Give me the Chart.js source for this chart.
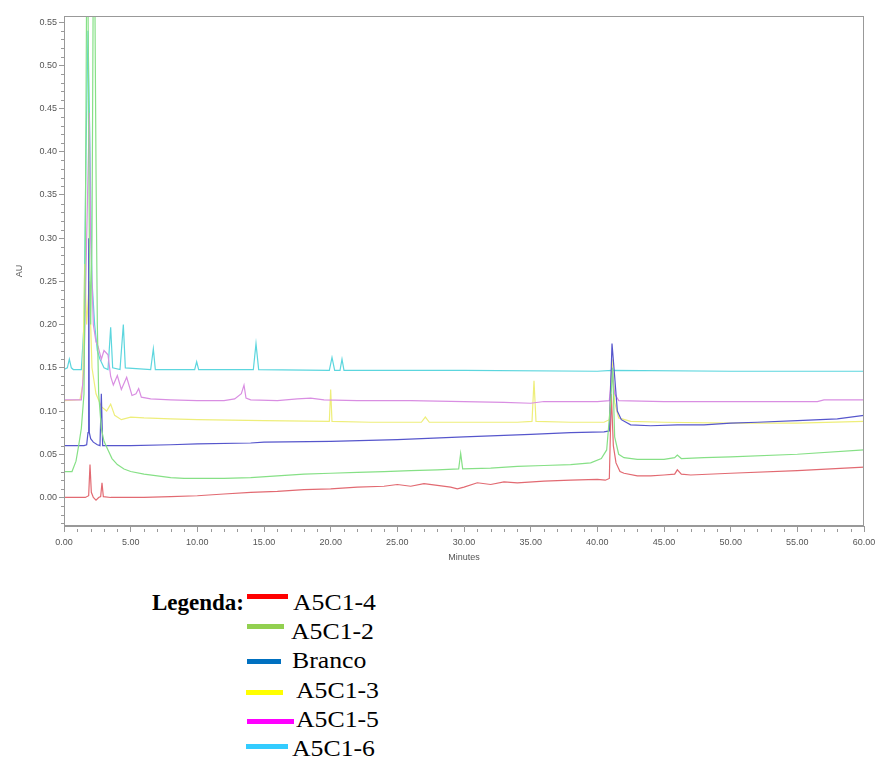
<!DOCTYPE html>
<html>
<head>
<meta charset="utf-8">
<script src="https://cdn.jsdelivr.net/npm/chart.js@4/dist/chart.umd.min.js"></script>
<style>
  html, body { margin: 0; padding: 0; background: #fff; width: 881px; height: 761px; overflow: hidden; }
  #wrap { position: absolute; left: 0; top: 0; width: 881px; height: 570px; }
  .lg { position: absolute; font-family: "Liberation Serif", "Times New Roman", serif; font-size: 23px; color: #000; line-height: 1; transform-origin: left center; transform: scaleX(1.12); white-space: nowrap; }
  .lgt { font-weight: bold; transform: scaleX(1.0); }
  .sw { position: absolute; height: 5px; }
</style>
</head>
<body>
<div id="wrap"><canvas id="c" width="881" height="570"></canvas></div>

<div class="lg lgt" style="left:152px; top:591px;">Legenda:</div>
<div class="sw" style="left:247px; top:594px; width:41px; background:#ff0000;"></div>
<div class="lg" style="left:293px; top:591px;">A5C1-4</div>
<div class="sw" style="left:247px; top:624px; width:37px; background:#92d050;"></div>
<div class="lg" style="left:291px; top:620px;">A5C1-2</div>
<div class="sw" style="left:247px; top:659px; width:34px; background:#0070c0;"></div>
<div class="lg" style="left:292px; top:649px;">Branco</div>
<div class="sw" style="left:246px; top:690px; width:37px; background:#ffff00;"></div>
<div class="lg" style="left:296px; top:679px;">A5C1-3</div>
<div class="sw" style="left:247px; top:719px; width:47px; background:#ff00ff;"></div>
<div class="lg" style="left:296px; top:708px;">A5C1-5</div>
<div class="sw" style="left:246px; top:744px; width:42px; background:#33ccff;"></div>
<div class="lg" style="left:292px; top:737px;">A5C1-6</div>

<script>
// ---- data (time in minutes, absorbance in AU) ----
const seriesNames = ["A5C1-4", "A5C1-2", "Branco", "A5C1-3", "A5C1-5", "A5C1-6"];

const a5c1_4 = [[0,0],[1.6,0],[1.85,0.002],[1.95,0.038],[2.05,0.006],[2.2,0.0],[2.4,-0.003],[2.6,0.0],[2.75,0.001],[2.85,0.017],[2.95,0.001],[3.5,0.0],[6,0.0],[8,0.001],[10,0.002],[12,0.004],[14,0.006],[16,0.007],[18,0.009],[20,0.01],[22,0.012],[24,0.013],[25,0.015],[26,0.013],[27,0.016],[28,0.014],[29,0.012],[29.5,0.01],[30,0.012],[31,0.017],[32,0.015],[33,0.018],[34,0.017],[36,0.019],[38,0.02],[40,0.021],[40.6,0.02],[40.9,0.022],[41.05,0.12],[41.2,0.06],[41.4,0.04],[41.7,0.03],[42,0.028],[43,0.025],[44,0.025],[45,0.026],[45.8,0.027],[46,0.032],[46.3,0.027],[47,0.026],[50,0.028],[55,0.031],[60,0.035]];

const a5c1_2 = [[0,0.03],[0.6,0.03],[0.9,0.042],[1.1,0.06],[1.3,0.08],[1.5,0.12],[1.6,0.3],[1.7,0.6],[1.8,0.58],[1.9,0.3],[2.0,0.2],[2.1,0.3],[2.2,0.62],[2.3,0.62],[2.4,0.38],[2.5,0.2],[2.6,0.12],[2.8,0.08],[3.0,0.065],[3.3,0.055],[3.6,0.045],[4.0,0.038],[4.5,0.033],[5,0.03],[6,0.027],[7,0.025],[8,0.023],[9,0.022],[10,0.022],[12,0.022],[14,0.023],[16,0.025],[18,0.027],[20,0.028],[22,0.029],[24,0.03],[26,0.031],[28,0.032],[29.6,0.033],[29.75,0.051],[29.9,0.033],[32,0.034],[34,0.036],[36,0.037],[38,0.038],[39.5,0.04],[40.3,0.045],[40.7,0.055],[41.0,0.11],[41.15,0.15],[41.3,0.07],[41.6,0.05],[42,0.046],[43,0.044],[45,0.044],[45.8,0.046],[46,0.049],[46.3,0.045],[48,0.046],[50,0.047],[55,0.05],[60,0.055]];

const branco = [[0,0.06],[1.5,0.06],[1.7,0.061],[1.8,0.075],[1.85,0.3],[1.9,0.075],[2.0,0.068],[2.2,0.064],[2.5,0.061],[2.7,0.06],[2.8,0.12],[2.9,0.06],[3.5,0.06],[5,0.06],[8,0.061],[10,0.062],[14,0.063],[15,0.064],[20,0.065],[25,0.067],[30,0.07],[35,0.073],[38,0.075],[40.5,0.076],[40.9,0.077],[41.1,0.178],[41.3,0.14],[41.5,0.1],[41.8,0.09],[42.5,0.084],[44,0.083],[46,0.084],[48,0.084],[50,0.086],[52,0.087],[55,0.089],[58,0.091],[60,0.095]];

const a5c1_3 = [[0,0.112],[1.2,0.113],[1.4,0.13],[1.55,0.27],[1.7,0.2],[1.9,0.25],[2.1,0.15],[2.4,0.12],[2.8,0.105],[3.2,0.1],[3.5,0.108],[3.8,0.095],[4.3,0.09],[5,0.093],[6,0.092],[8,0.091],[10,0.09],[15,0.089],[19.9,0.088],[20.0,0.125],[20.1,0.088],[23,0.087],[26.8,0.087],[27.1,0.093],[27.4,0.087],[30,0.087],[34,0.087],[35.1,0.088],[35.25,0.135],[35.4,0.088],[38,0.087],[40.5,0.087],[40.9,0.09],[41.1,0.16],[41.3,0.11],[41.6,0.092],[42.5,0.088],[45,0.087],[50,0.086],[55,0.086],[60,0.088]];

const a5c1_5 = [[0,0.113],[1.3,0.113],[1.5,0.15],[1.7,0.3],[1.9,0.445],[2.0,0.3],[2.2,0.2],[2.4,0.18],[2.55,0.175],[2.8,0.16],[3.0,0.17],[3.3,0.165],[3.5,0.14],[3.7,0.13],[4.0,0.141],[4.3,0.125],[4.7,0.139],[5.1,0.118],[5.4,0.12],[5.6,0.126],[5.8,0.116],[6.5,0.114],[8,0.113],[10,0.112],[12,0.112],[12.8,0.114],[13.3,0.12],[13.5,0.13],[13.65,0.115],[14,0.113],[16,0.112],[17.5,0.114],[18.5,0.115],[19.5,0.113],[22,0.112],[26,0.112],[30,0.111],[33,0.11],[35,0.109],[36,0.111],[40,0.111],[40.9,0.112],[41.1,0.15],[41.3,0.12],[41.6,0.112],[45,0.111],[50,0.111],[56.5,0.111],[57,0.113],[60,0.113]];

const a5c1_6 = [[0,0.148],[0.25,0.15],[0.4,0.16],[0.55,0.15],[0.7,0.148],[1.3,0.148],[1.5,0.2],[1.65,0.4],[1.8,0.54],[1.95,0.4],[2.1,0.25],[2.3,0.2],[2.5,0.17],[2.7,0.16],[3.0,0.15],[3.3,0.148],[3.5,0.197],[3.65,0.15],[4.2,0.148],[4.45,0.2],[4.6,0.15],[6.5,0.148],[6.7,0.172],[6.85,0.148],[9.8,0.148],[9.95,0.157],[10.1,0.148],[14.2,0.148],[14.4,0.178],[14.6,0.148],[19.9,0.147],[20.1,0.162],[20.3,0.147],[20.7,0.147],[20.85,0.16],[21.0,0.147],[30,0.147],[40,0.146],[41.1,0.147],[50,0.146],[60,0.146]];

const xTickValues = [0,5,10,15,20,25,30,35,40,45,50,55,60];
const yTickValues = [0,0.05,0.10,0.15,0.20,0.25,0.30,0.35,0.40,0.45,0.50,0.55];
const lineColors = ["#e26a72", "#86e086", "#5656cc", "#eeee7a", "#d98ee2", "#5cd6de"];

// ---- chart ----
const allSeries = [a5c1_4, a5c1_2, branco, a5c1_3, a5c1_5, a5c1_6];
const drawOrder = [2, 0, 1, 4, 3, 5];

const minorTicks = {
  id: 'minorTicks',
  afterDraw(chart) {
    const ctx = chart.ctx, a = chart.chartArea;
    const xs = chart.scales.x, ys = chart.scales.y;
    ctx.save();
    ctx.strokeStyle = '#999';
    ctx.lineWidth = 1;
    ctx.strokeRect(a.left + 0.5, a.top + 0.5, a.right - a.left - 1, a.bottom - a.top - 1);
    ctx.beginPath();
    for (let t = 0; t <= 60; t += 1) {
      if (t % 5 === 0) continue;
      const px = Math.round(xs.getPixelForValue(t)) + 0.5;
      ctx.moveTo(px, a.bottom + 3);
      ctx.lineTo(px, a.bottom + 6);
    }
    for (let k = -3; k <= 55; k++) {
      if (k % 5 === 0) continue;
      const py = Math.round(ys.getPixelForValue(k / 100)) + 0.5;
      ctx.moveTo(a.left - 3, py);
      ctx.lineTo(a.left, py);
    }
    ctx.stroke();
    ctx.restore();
  }
};

new Chart(document.getElementById('c'), {
  type: 'line',
  data: {
    datasets: allSeries.map((s, i) => ({
      label: seriesNames[i],
      data: s.map(p => ({ x: p[0], y: p[1] })),
      borderColor: lineColors[i],
      borderWidth: 1.2,
      pointRadius: 0,
      tension: 0,
      fill: false,
      order: drawOrder[i]
    }))
  },
  options: {
    responsive: false,
    animation: false,
    devicePixelRatio: 1,
    layout: { padding: { top: 16, right: 17, left: 0, bottom: 0 } },
    plugins: { legend: { display: false }, tooltip: { enabled: false } },
    scales: {
      x: {
        type: 'linear', min: 0, max: 60,
        afterBuildTicks: s => { s.ticks = xTickValues.map(v => ({ value: v })); },
        afterFit: s => { s.height = 44; },
        grid: { drawOnChartArea: false, tickLength: 6, color: '#999' },
        border: { color: '#999' },
        ticks: { callback: v => Number(v).toFixed(2), maxRotation: 0, autoSkip: false, padding: 5, color: '#555', font: { family: 'Liberation Sans, Arial', size: 9 } },
        title: { display: true, text: 'Minutes', color: '#555', font: { family: 'Liberation Sans, Arial', size: 9 }, padding: { top: 0, bottom: 7 } }
      },
      y: {
        type: 'linear', min: -0.033, max: 0.557,
        afterBuildTicks: s => { s.ticks = yTickValues.map(v => ({ value: v })); },
        afterFit: s => { s.width = 64; },
        grid: { drawOnChartArea: false, tickLength: 5, color: '#999' },
        border: { color: '#999' },
        ticks: { callback: v => Number(v).toFixed(2), autoSkip: false, padding: 2, color: '#555', font: { family: 'Liberation Sans, Arial', size: 9 } },
        title: { display: true, text: 'AU', color: '#555', font: { family: 'Liberation Sans, Arial', size: 9 }, padding: { top: 14, bottom: 0 } }
      }
    }
  },
  plugins: [minorTicks]
});
</script>
</body>
</html>
